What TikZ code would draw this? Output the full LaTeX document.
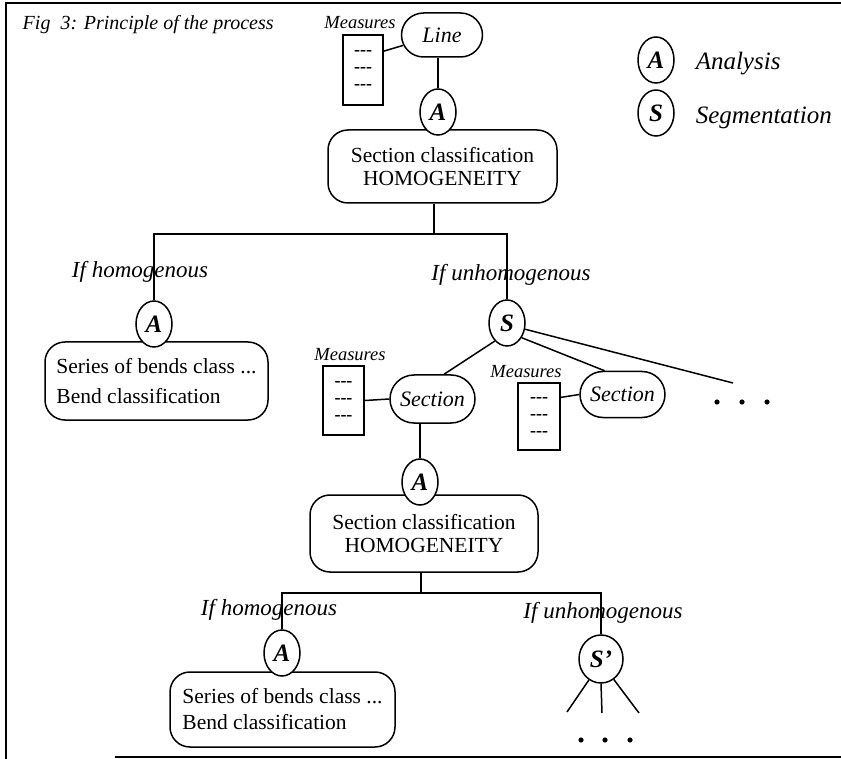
\documentclass[tikz,border=0pt]{standalone}
\usepackage{fontspec}
\setmainfont{Liberation Serif}
\usetikzlibrary{shapes.geometric,shapes.misc}
\begin{document}
\begin{tikzpicture}[x=1pt,y=-1pt,
  line width=1.5pt,
  circ/.style={draw,ellipse,fill=white,inner sep=0pt,minimum width=36pt,minimum height=46pt,font=\fontsize{25}{25}\selectfont\bfseries\itshape},
  pill/.style={draw,rounded rectangle,inner sep=0pt,font=\fontsize{22}{24}\selectfont\itshape},
  classbox/.style={draw,rounded corners=20pt,inner sep=0pt,align=center,font=\fontsize{21.5}{23}\selectfont},
  seriesbox/.style={draw,rounded corners=20pt,inner sep=0pt,align=left,font=\fontsize{21.5}{30}\selectfont},
  mbox/.style={draw,line width=2pt,inner sep=0pt,align=center,font=\fontsize{18}{17}\selectfont\bfseries},
  mlabel/.style={font=\fontsize{18.5}{18}\selectfont\itshape,inner sep=0pt},
  cond/.style={font=\fontsize{23}{23}\selectfont\itshape,inner sep=0pt},
  legtext/.style={font=\fontsize{25}{25}\selectfont\itshape,inner sep=0pt,anchor=west},
  dotmark/.style={fill=black}]
\useasboundingbox (0,0) rectangle (841,759);
% frame
\draw[line width=2pt] (841,3) -- (6,3) -- (6,759);
\draw[line width=1.8pt] (115,757) -- (841,757);
% title
\node[anchor=west,font=\fontsize{20}{22}\selectfont\itshape,inner sep=0pt] (title) at (22,25) {Fig\ \ 3: Principle of the process};
% top level
\node[mlabel] (meas1) at (360,23) {Measures};
\node[mbox,minimum width=40pt,minimum height=70pt] (mb1) at (363,70) {-{}-{}-\\-{}-{}-\\-{}-{}-};
\node[pill,minimum width=81pt,minimum height=44pt] (line) at (442,35) {Line};
\node[classbox,minimum width=229pt,minimum height=73pt] (box1) at (442.5,166.5) {Section classification\\HOMOGENEITY};
\node[circ] (a1) at (438,112) {A};
\draw (mb1.42) -- (line.195);
\draw (a1.north |- line.south) -- (a1.north);
% first split
\coordinate (j1) at (434,234);
\draw (j1 |- box1.south) -- (j1);
\node[seriesbox,minimum width=223pt,minimum height=78pt] (box2) at (156.5,381) {Series of bends class ...\\Bend classification};
\node[circ] (a2) at (154,324) {A};
\node[circ] (s1) at (507,323) {S};
\draw (a2.north) -- (a2.north |- j1) -- (s1.north |- j1) -- (s1.north);
\node[cond] (c1) at (140,272) {If homogenous};
\node[cond] (c2) at (511,275) {If unhomogenous};
% sections
\node[pill,minimum width=85pt,minimum height=48pt] (sec1) at (432.5,399) {Section};
\node[pill,minimum width=85pt,minimum height=46pt] (sec2) at (622.5,394.5) {Section};
\node[mlabel] (meas2) at (350,355) {Measures};
\node[mbox,minimum width=41pt,minimum height=69pt] (mb2) at (343.5,400.5) {-{}-{}-\\-{}-{}-\\-{}-{}-};
\node[mlabel] (meas3) at (526,372) {Measures};
\node[mbox,minimum width=42pt,minimum height=67pt] (mb3) at (539,416.5) {-{}-{}-\\-{}-{}-\\-{}-{}-};
\draw (mb2.east) -- (sec1.west);
\draw (mb3.41) -- (sec2.west);
\coordinate (e1) at (733,383);
\draw (s1.-124) -- (sec1.65);
\draw (s1.-45) -- (sec2.127);
\draw (s1.-19) -- (e1);
\fill[dotmark] (717,402) circle (2.6pt) (742,402) circle (2.6pt) (767,402) circle (2.6pt);
% second level
\node[classbox,minimum width=228pt,minimum height=77pt] (box3) at (424,533.5) {Section classification\\HOMOGENEITY};
\node[circ] (a3) at (420,482) {A};
\draw (a3.north |- sec1.south) -- (a3.north);
\coordinate (j2) at (421,593);
\draw (j2 |- box3.south) -- (j2);
\node[seriesbox,font=\fontsize{21.5}{26}\selectfont,minimum width=225pt,minimum height=75pt] (box4) at (282.5,709.5) {Series of bends class ...\\Bend classification};
\node[circ] (a4) at (282,653) {A};
\node[circ,minimum width=44pt,minimum height=48pt] (s2) at (601,659) {S’};
\draw (a4.north) -- (a4.north |- j2) -- (s2.north |- j2) -- (s2.north);
\node[cond] (c3) at (269,610) {If homogenous};
\node[cond] (c4) at (603,613) {If unhomogenous};
\coordinate (f1) at (567,712);
\coordinate (f2) at (602,713);
\coordinate (f3) at (639,713);
\draw (s2.-120) -- (f1);
\draw (s2.-90) -- (f2);
\draw (s2.-58) -- (f3);
\fill[dotmark] (581,740) circle (2.6pt) (605,740) circle (2.6pt) (630,740) circle (2.6pt);
% legend
\node[circ] (la) at (656,60) {A};
\node[legtext] (lat) at (695,64) {Analysis};
\node[circ] (ls) at (656,113) {S};
\node[legtext] (lst) at (695,118) {Segmentation};
\end{tikzpicture}
\end{document}
